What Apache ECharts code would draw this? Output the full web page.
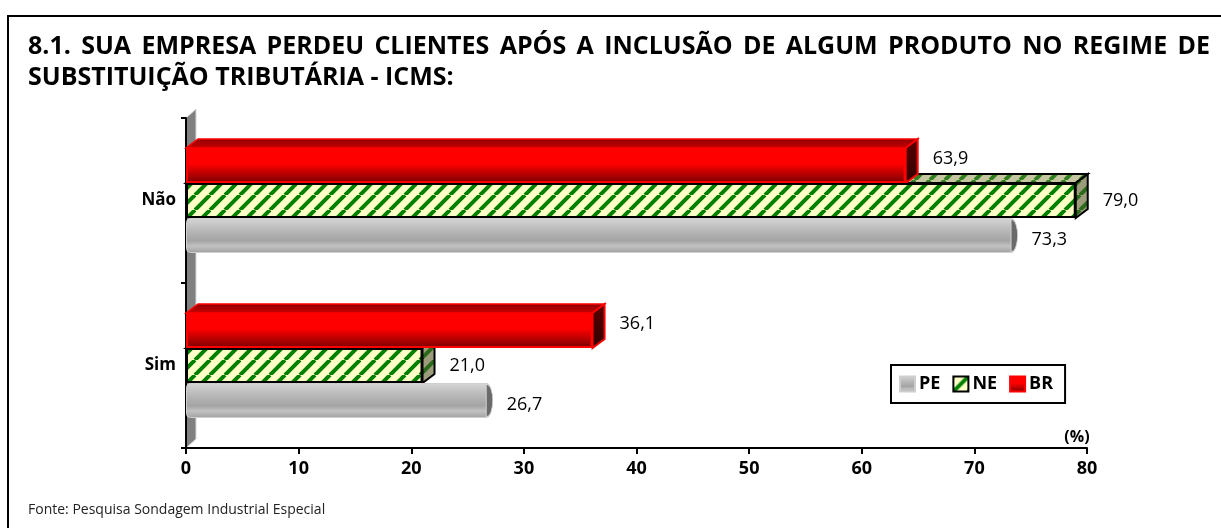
<!DOCTYPE html>
<html>
<head>
<meta charset="utf-8">
<script src="https://cdn.jsdelivr.net/npm/echarts@6/dist/echarts.min.js"></script>
<style>
  html, body { margin: 0; padding: 0; background: #fff; }
  #chart { width: 1221px; height: 528px; }
</style>
</head>
<body>
<div id="chart"></div>
<script>
// dados do gráfico
const categories = ['Sim', 'Não'];
const seriesNames = ['PE', 'NE', 'BR'];
const peValues = [26.7, 73.3];
const neValues = [21.0, 79.0];
const brValues = [36.1, 63.9];
const axisMin = 0, axisMax = 80, axisStep = 10;
const titleLines = [
  '8.1. SUA EMPRESA PERDEU CLIENTES APÓS A INCLUSÃO DE ALGUM PRODUTO NO REGIME DE',
  'SUBSTITUIÇÃO TRIBUTÁRIA - ICMS:'
];
const fonte = 'Fonte: Pesquisa Sondagem Industrial Especial';

const FONT = '"Open Sans", "Liberation Sans", sans-serif';
const BW = 35;          // espessura da barra
const DX = 12, DY = 9;  // profundidade 3D

// textura listrada (verde / amarelo)
function stripeTile (bg, fg, size, lw) {
  const c = document.createElement('canvas');
  c.width = c.height = size;
  const ctx = c.getContext('2d');
  ctx.fillStyle = bg;
  ctx.fillRect(0, 0, size, size);
  ctx.strokeStyle = fg;
  ctx.lineWidth = lw;
  ctx.beginPath();
  for (const o of [-size, 0, size]) {
    ctx.moveTo(o, size);
    ctx.lineTo(o + size, 0);
  }
  ctx.stroke();
  return { image: c, repeat: 'repeat' };
}
const neFront = stripeTile('#ffffc8', '#008000', 15, 4);
const neTop = stripeTile('#c6c6a0', '#2f7f1f', 15, 4);
const neSide = stripeTile('#9c9c7c', '#2a6a1a', 15, 4);

const brGrad = new echarts.graphic.LinearGradient(0, 0, 0, 1, [
  { offset: 0, color: '#ff0000' }, { offset: 0.45, color: '#ff0000' }, { offset: 1, color: '#780000' }
]);
const peGrad = new echarts.graphic.LinearGradient(0, 0, 0, 1, [
  { offset: 0, color: '#d6d6d6' }, { offset: 0.35, color: '#b8b8b8' },
  { offset: 0.65, color: '#a4a4a4' }, { offset: 0.8, color: '#c2c2c2' }, { offset: 1, color: '#a0a0a0' }
]);

function fmt (p) { return p.value.toFixed(1).replace('.', ','); }

// faces 3D (topo / lado / tampa do cilindro); k: 0 = PE (embaixo), 2 = BR (em cima)
const faceData = [];
[peValues, neValues, brValues].forEach(function (arr, k) {
  arr.forEach(function (v, i) { faceData.push([i, k, v]); });
});

function render3d (params, api) {
  const cat = api.value(0), k = api.value(1), v = api.value(2);
  const base = api.coord([0, cat]);
  const end = api.coord([v, cat]);
  const top = base[1] + 1.5 * BW - BW * (k + 1);
  const bot = top + BW;
  const x0 = base[0], x1 = end[0];
  const children = [];
  if (k === 0) {
    children.push({
      type: 'circle', x: x1, y: (top + bot) / 2, scaleX: 6 / 16.5,
      shape: { cx: 0, cy: 0, r: 16.5 },
      style: { fill: '#6a6a6a', stroke: '#d0d0d0', lineWidth: 2, strokeNoScale: true }
    });
    return { type: 'group', children: children };
  }
  const topPts = [[x0, top], [x1, top], [x1 + DX, top - DY], [x0 + DX, top - DY]];
  const sidePts = [[x1, top], [x1 + DX, top - DY], [x1 + DX, bot - DY], [x1, bot]];
  if (k === 2) {
    children.push({ type: 'polygon', shape: { points: topPts },
      style: { fill: new echarts.graphic.LinearGradient(0, 0, 0, 1, [{ offset: 0, color: '#8a0000' }, { offset: 1, color: '#d00000' }]), stroke: '#ff0000', lineWidth: 1.5 } });
    children.push({ type: 'polygon', shape: { points: sidePts },
      style: { fill: new echarts.graphic.LinearGradient(0, 0, 0, 1, [{ offset: 0, color: '#5a0000' }, { offset: 1, color: '#300000' }]), stroke: '#ff0000', lineWidth: 2 } });
  } else {
    children.push({ type: 'polygon', shape: { points: topPts },
      style: { fill: neTop, stroke: '#000', lineWidth: 2 } });
    children.push({ type: 'polygon', shape: { points: sidePts },
      style: { fill: neSide, stroke: '#000', lineWidth: 2 } });
  }
  return { type: 'group', children: children };
}

// título justificado palavra por palavra
const graphics = [];
const mctx = document.createElement('canvas').getContext('2d');
const titleFont = 'bold 25px ' + FONT;
mctx.font = titleFont;
function addLine (line, y, justify) {
  const words = line.split(' ');
  const widths = words.map(function (w) { return mctx.measureText(w).width; });
  const total = widths.reduce(function (a, b) { return a + b; }, 0);
  const gap = justify ? (1182 - total) / (words.length - 1) : mctx.measureText(' ').width;
  let x = 28;
  words.forEach(function (w, i) {
    graphics.push({ type: 'text', x: x, y: y, style: { text: w, font: titleFont, fill: '#000', verticalAlign: 'middle' } });
    x += widths[i] + gap;
  });
}
addLine(titleLines[0], 47, true);
addLine(titleLines[1], 78, false);

// moldura
graphics.push({ type: 'rect', shape: { x: 8, y: 16, width: 1300, height: 700 }, style: { fill: null, stroke: '#000', lineWidth: 2 }, z: -1 });
// parede cinza
graphics.push({ type: 'polygon', shape: { points: [[186, 118], [196, 109], [196, 439], [186, 448]] },
  style: { fill: '#808080', stroke: '#d8d8d8', lineWidth: 1 }, z: -1 });
graphics.push({ type: 'text', x: 1077, y: 437, style: { text: '(%)', font: 'bold 16px ' + FONT, fill: '#000', align: 'center', verticalAlign: 'middle' } });
graphics.push({ type: 'text', x: 28, y: 510, style: { text: fonte, font: '14px ' + FONT, fill: '#222', verticalAlign: 'middle' } });

const option = {
  backgroundColor: '#fff',
  animation: false,
  graphic: graphics,
  grid: { left: 186, right: 134, top: 118, bottom: 80, containLabel: false },
  legend: {
    data: seriesNames,
    left: 891, top: 365,
    padding: [10, 12, 10, 8],
    borderColor: '#000', borderWidth: 2,
    itemWidth: 15, itemHeight: 15, itemGap: 12,
    icon: 'rect',
    textStyle: { fontFamily: FONT, fontWeight: 'bold', fontSize: 18, color: '#000', padding: [0, 0, 0, -1] }
  },
  xAxis: {
    type: 'value', min: axisMin, max: axisMax, interval: axisStep,
    axisLine: { show: true, lineStyle: { color: '#000', width: 2 } },
    axisTick: { show: true, length: 6, lineStyle: { color: '#000', width: 2 } },
    splitLine: { show: false },
    axisLabel: { fontFamily: FONT, fontWeight: 'bold', fontSize: 18, color: '#000', margin: 12 }
  },
  yAxis: {
    type: 'category', data: categories,
    axisLine: { show: true, lineStyle: { color: '#000', width: 2 } },
    axisTick: { show: true, length: 5, lineStyle: { color: '#000', width: 2 } },
    axisLabel: { fontFamily: FONT, fontWeight: 'bold', fontSize: 17, color: '#000', margin: 10 }
  },
  // a primeira série fica em cima na barra horizontal
  series: [
    {
      name: 'BR', type: 'bar', data: brValues, barWidth: BW, barGap: '0%', z: 3,
      itemStyle: { color: brGrad, borderColor: '#ff0000', borderWidth: 2 },
      label: { show: true, position: 'right', distance: 27, formatter: fmt, fontFamily: FONT, fontSize: 18, color: '#000', offset: [0, -7] }
    },
    {
      name: 'NE', type: 'bar', data: neValues, barWidth: BW, barGap: '0%', z: 3,
      itemStyle: { color: neFront, borderColor: '#000', borderWidth: 2 },
      label: { show: true, position: 'right', distance: 27, formatter: fmt, fontFamily: FONT, fontSize: 18, color: '#000' }
    },
    {
      name: 'PE', type: 'bar', data: peValues, barWidth: BW, barGap: '0%', z: 3,
      itemStyle: { color: peGrad, borderColor: '#cfcfcf', borderWidth: 1, borderRadius: [4, 0, 0, 4] },
      label: { show: true, position: 'right', distance: 20, formatter: fmt, fontFamily: FONT, fontSize: 18, color: '#000', offset: [0, 4] }
    },
    {
      name: 'faces3d', type: 'custom', data: faceData, z: 2, silent: true,
      encode: { x: 2, y: 0 },
      renderItem: render3d
    }
  ]
};

const chart = echarts.init(document.getElementById('chart'));
chart.setOption(option);
</script>
</body>
</html>
